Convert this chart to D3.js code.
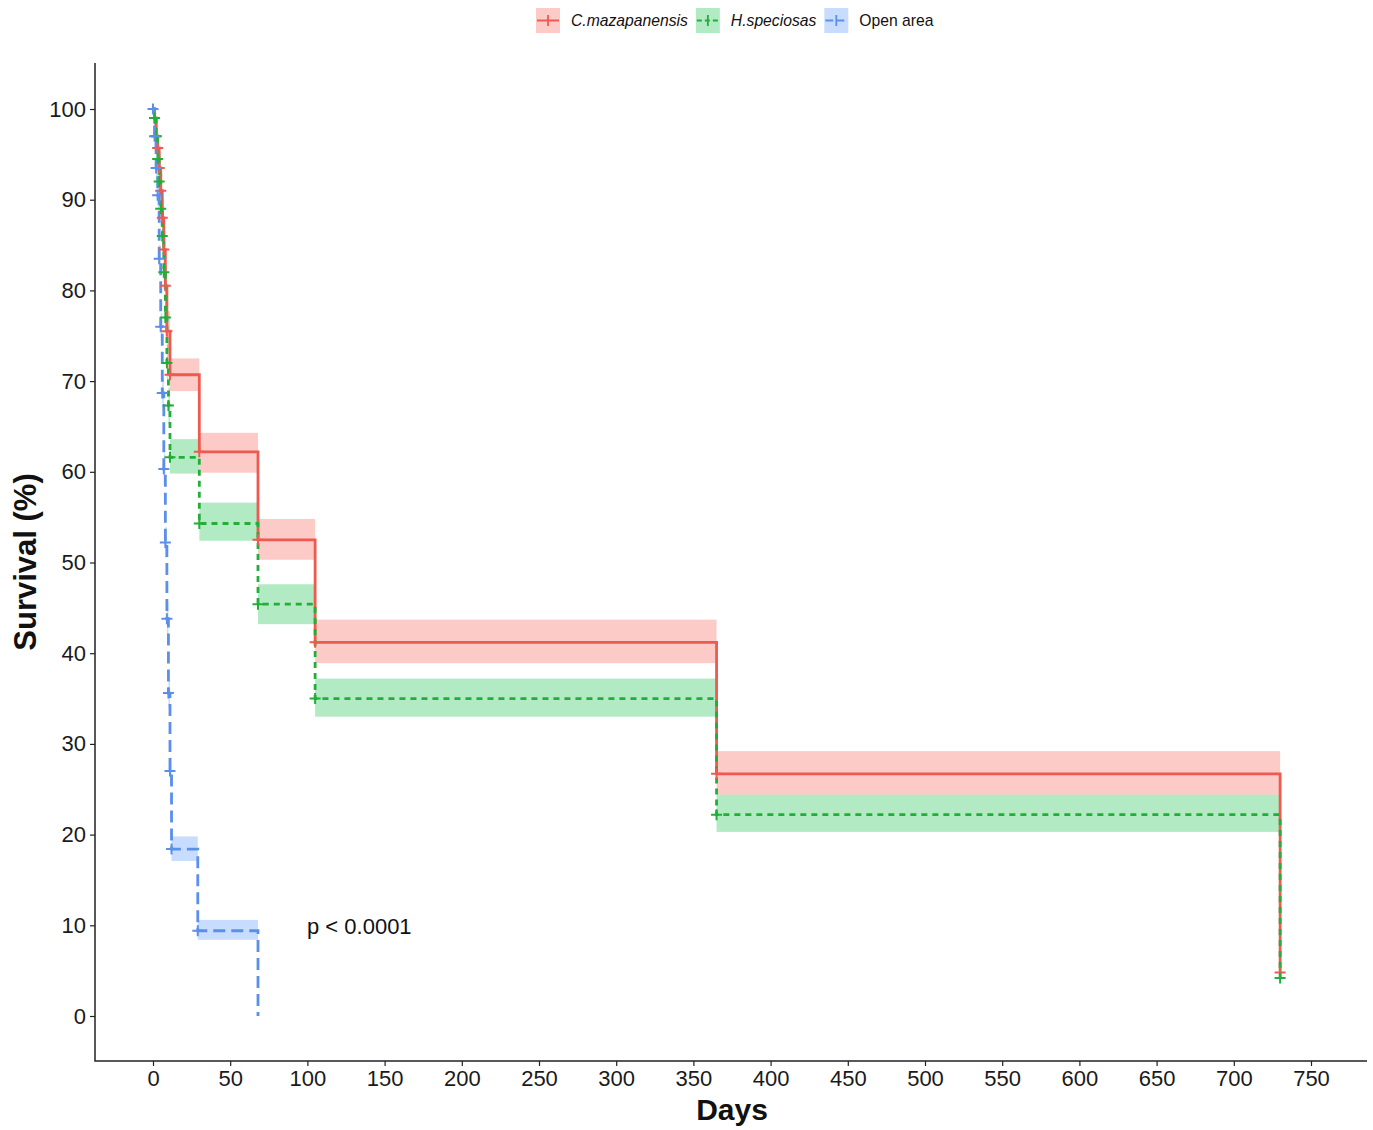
<!DOCTYPE html>
<html>
<head>
<meta charset="utf-8">
<script src="https://cdn.jsdelivr.net/npm/d3@7"></script>
<style>
  body { margin: 0; background: #fff; }
  svg { font-family: "Liberation Sans", Arial, sans-serif; }
</style>
</head>
<body>
<div id="chart"></div>
<script>
// survival curves (time in days, survival in %)
const seriesNames = ['C.mazapanensis', 'H.speciosas', 'Open area'];

const redTime = [0, 1, 2, 3, 4, 5, 6, 7, 8, 9, 11, 30, 68, 105, 365, 730];
const redSurv = [100, 99, 97, 95.7, 93.5, 91, 88, 84.5, 80.5, 75.5, 70.7, 62.2, 52.5, 41.2, 26.7, 4.8];
const redLow  = [100, 98, 95.5, 94, 91.7, 89, 86, 82.4, 78.3, 73.3, 68.9, 59.9, 50.3, 38.9, 24.4, 4.8];
const redHigh = [100, 100, 98.5, 97.3, 95.3, 93, 90, 86.6, 82.7, 77.7, 72.5, 64.3, 54.8, 43.7, 29.2, 4.8];

const greenTime = [0, 1, 2, 3, 4, 5, 6, 7, 8, 9, 10, 11, 30, 68, 105, 365, 730];
const greenSurv = [100, 99, 97, 94.5, 92, 89, 86, 82, 77, 72, 67.3, 61.6, 54.3, 45.4, 35, 22.2, 4.2];
const greenLow  = [100, 98, 95.3, 92.6, 90, 87, 84, 80, 75, 70, 65.3, 59.8, 52.4, 43.2, 33, 20.3, 4.2];
const greenHigh = [100, 100, 98.7, 96.4, 94, 91, 88, 84, 79, 74, 69.3, 63.6, 56.6, 47.6, 37.2, 24.4, 4.2];

const blueTime = [0, 1, 2, 3, 4, 5, 6, 7, 8, 9, 10, 11, 12, 29, 68];
const blueSurv = [100, 97, 93.5, 90.5, 83.5, 76, 68.7, 60.3, 52.2, 43.8, 35.6, 27, 18.4, 9.4, 0];
const blueLow  = [100, 95.5, 92, 89, 82, 74.5, 67, 58.6, 50.5, 42.1, 34, 25.5, 17.1, 8.4, 0];
const blueHigh = [100, 98.5, 95, 92, 85, 77.5, 70.4, 62, 53.9, 45.5, 37.2, 28.5, 19.8, 10.6, 0];

// censor marks (days)
const redCensor = [1, 2, 3, 4, 5, 6, 7, 8, 9, 11, 30, 68, 105, 365, 730];
const greenCensor = [1, 2, 3, 4, 5, 6, 7, 8, 9, 10, 11, 30, 68, 105, 365, 730];
const blueCensor = [0, 1, 2, 3, 4, 5, 6, 7, 8, 9, 10, 11, 12, 29];

const xTicks = d3.range(0, 751, 50);
const yTicks = d3.range(0, 101, 10);
const pLabel = 'p < 0.0001';

const width = 1373, height = 1130;
const panel = {left: 95, right: 1367, top: 63, bottom: 1061};

const series = [
  {name: seriesNames[0], time: redTime, surv: redSurv, low: redLow, high: redHigh, censor: redCensor,
   color: '#EE5A50', fill: 'rgba(248,118,109,0.38)', dash: null},
  {name: seriesNames[1], time: greenTime, surv: greenSurv, low: greenLow, high: greenHigh, censor: greenCensor,
   color: '#22AE38', fill: 'rgba(0,186,56,0.30)', dash: '6,5'},
  {name: seriesNames[2], time: blueTime, surv: blueSurv, low: blueLow, high: blueHigh, censor: blueCensor,
   color: '#5B8FEA', fill: 'rgba(97,156,255,0.35)', dash: '12,6'}
];

const x = d3.scaleLinear().domain([0, 750]).range([153, 1311]);
const y = d3.scaleLinear().domain([0, 100]).range([1016, 109]);

const svg = d3.select('#chart').append('svg')
  .attr('width', width)
  .attr('height', height);

// confidence bands
series.forEach(s => {
  const steps = s.time.slice(0, -1).map((t, i) => ({t0: t, t1: s.time[i + 1], lo: s.low[i], hi: s.high[i]}));
  svg.append('g').selectAll('rect')
    .data(steps)
    .enter()
    .append('rect')
    .attr('x', d => x(d.t0))
    .attr('width', d => x(d.t1) - x(d.t0))
    .attr('y', d => y(d.hi))
    .attr('height', d => y(d.lo) - y(d.hi))
    .attr('fill', s.fill);
});

// step lines
const line = d3.line()
  .x(d => x(d[0]))
  .y(d => y(d[1]))
  .curve(d3.curveStepAfter);

series.forEach(s => {
  svg.append('path')
    .datum(s.time.map((t, i) => [t, s.surv[i]]))
    .attr('d', line)
    .attr('fill', 'none')
    .attr('stroke', s.color)
    .attr('stroke-width', 2.8)
    .attr('stroke-dasharray', s.dash);
});

// censor crosses
series.forEach(s => {
  const valueAt = t => s.surv[d3.bisectRight(s.time, t) - 1];
  svg.append('g').selectAll('path')
    .data(s.censor)
    .enter()
    .append('path')
    .attr('d', t => {
      const cx = x(t), cy = y(valueAt(t));
      return `M${cx - 5.5},${cy}H${cx + 5.5}M${cx},${cy - 5.5}V${cy + 5.5}`;
    })
    .attr('stroke', s.color)
    .attr('stroke-width', 2);
});

// axes
const yAxis = svg.append('g')
  .attr('transform', `translate(${panel.left},0)`)
  .call(d3.axisLeft(y).tickValues(yTicks).tickSize(5).tickPadding(4));
const xAxis = svg.append('g')
  .attr('transform', `translate(0,${panel.bottom})`)
  .call(d3.axisBottom(x).tickValues(xTicks).tickSize(5).tickPadding(4));

[xAxis, yAxis].forEach(a => {
  a.select('.domain').remove();
  a.selectAll('.tick line').attr('stroke', '#222').attr('stroke-width', 1.2);
  a.selectAll('.tick text')
    .attr('fill', '#1a1a1a')
    .style('font-size', '22px')
    .style('font-family', '"Liberation Sans", Arial, sans-serif');
});

svg.append('path')
  .attr('d', `M${panel.left},${panel.top}V${panel.bottom}H${panel.right}`)
  .attr('fill', 'none')
  .attr('stroke', '#222')
  .attr('stroke-width', 1.5);

// axis titles
svg.append('text')
  .attr('x', 732)
  .attr('y', 1120)
  .attr('text-anchor', 'middle')
  .style('font-size', '30px')
  .style('font-weight', 'bold')
  .attr('fill', '#111')
  .text('Days');

svg.append('text')
  .attr('transform', 'translate(36,562) rotate(-90)')
  .attr('text-anchor', 'middle')
  .style('font-size', '31px')
  .style('font-weight', 'bold')
  .attr('fill', '#111')
  .text('Survival (%)');

// p-value
svg.append('text')
  .attr('x', 307)
  .attr('y', 934)
  .style('font-size', '22px')
  .attr('fill', '#111')
  .text(pLabel);

// legend
const legend = svg.append('g');
let lx = 536;
series.forEach((s, i) => {
  const g = legend.append('g').attr('transform', `translate(${lx},8)`);
  g.append('rect').attr('width', 24).attr('height', 25).attr('fill', s.fill);
  g.append('line').attr('x1', 1).attr('x2', 23).attr('y1', 12.5).attr('y2', 12.5)
    .attr('stroke', s.color).attr('stroke-width', 2)
    .attr('stroke-dasharray', s.dash ? (i === 1 ? '5,3' : '8,3') : null);
  g.append('line').attr('x1', 12).attr('x2', 12).attr('y1', 7).attr('y2', 18)
    .attr('stroke', s.color).attr('stroke-width', 1.8);
  const t = g.append('text')
    .attr('x', 35)
    .attr('y', 18)
    .style('font-size', '15.7px')
    .style('font-style', i < 2 ? 'italic' : 'normal')
    .attr('fill', '#111')
    .text(s.name);
  lx += 35 + t.node().getComputedTextLength() + 8;
});
</script>
</body>
</html>
